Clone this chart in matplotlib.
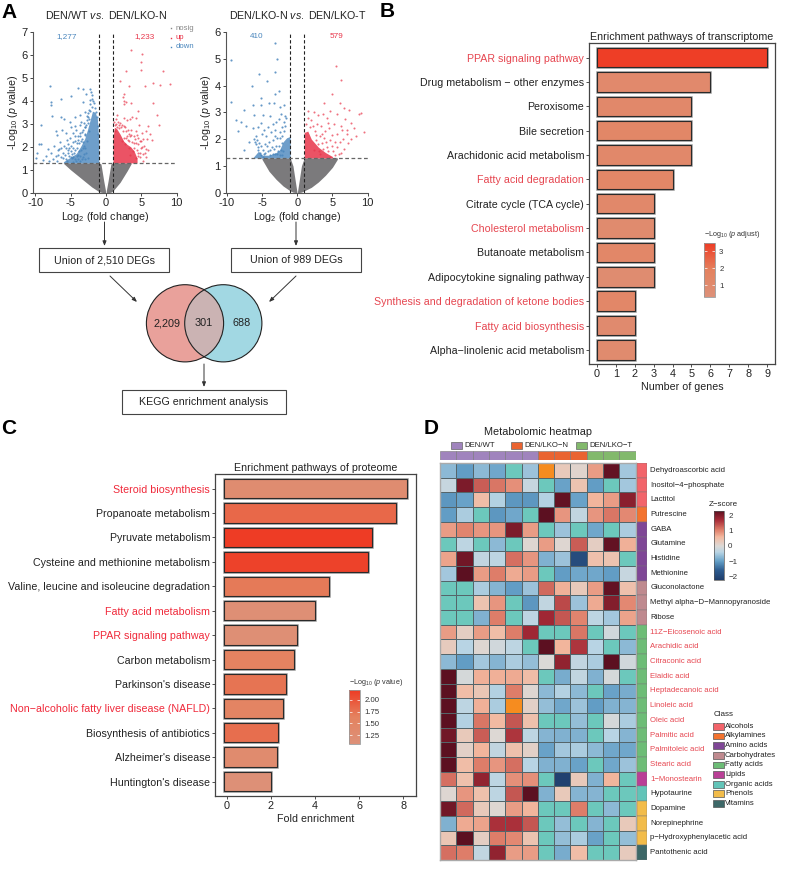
import numpy as np
import matplotlib
matplotlib.use('Agg')
import matplotlib.pyplot as plt
from matplotlib.cm import ScalarMappable
from matplotlib.colors import LinearSegmentedColormap, Normalize
from matplotlib.patches import Circle, Rectangle

plt.rcParams['font.family'] = ['Liberation Sans', 'DejaVu Sans']
plt.rcParams['mathtext.fontset'] = 'custom'
plt.rcParams['mathtext.rm'] = 'Liberation Sans'
plt.rcParams['mathtext.it'] = 'Liberation Sans:italic'
plt.rcParams['axes.unicode_minus'] = False

W, H = 787, 875
T = -9  # teal cells in the heatmap
O = 9   # orange cells in the heatmap

# volcano 1
v1_blue = [(-7.9,4.63),(-7.7,3.97),(-7.7,3.83),(-7.55,3.32),(-6.4,3.29),(-9.1,2.95),(-9.4,2.13),(-9.1,2.11),
    (-9.8,1.72),(-9.9,1.5),(-8.9,1.43),(-6.3,4.09),(-5,4.22),(-4,4.56),(-3.3,4.51),(-2.8,4.3),(-2.3,4.5),(-2.1,4.4),
    (-2,4.25),(-1.9,4.1),(-2.3,4.05),(-1.7,3.9),(-2.2,3.85),(-3.2,3.95),(-5.9,3.2),(-5.1,3.1),(-4.4,3.3),(-3.7,3.4),
    (-3,3.5),(-2.7,3.35),(-7.1,2.7),(-6.9,2.5),(-6.2,2.75),(-5.6,2.6),(-4.9,2.85),(-4.2,2.75),(-3.6,2.95),(-3.1,3.05),
    (-2.9,2.85),(-8.2,1.9),(-7.8,1.75),(-7.4,2.05),(-7.1,1.6),(-6.8,1.85),(-6.5,2.2),(-6.4,1.55),(-6.1,1.75),(-5.9,2.05),
    (-5.7,1.45),(-5.5,2.3),(-5.4,1.85),(-5.2,1.6),(-5.1,2.4),(-4.9,2.05),(-4.8,1.5),(-4.6,2.6),(-4.5,1.75),(-4.4,2.25),
    (-4.2,1.4),(-4.1,1.95),(-4,2.45),(-3.9,1.65),(-3.8,2.15),(-3.7,1.4),(-3.6,2.6),(-3.5,1.85),(-3.4,2.35),(-3.3,1.55),
    (-3.2,2.75),(-3.1,2.05),(-3,1.45),(-2.9,2.5),(-2.8,1.75),(-2.7,2.25),(-2.6,3.05),(-2.5,1.5),(-2.45,2.7),(-2.35,3.2),
    (-8.5,1.6),(-8,1.4),(-7.5,1.45),(-6.9,1.4),(-6.6,1.9),(-5.3,2.1),(-4.7,1.35),(-4.3,2.9),(-3.5,3.1),(-2.2,3.55),
    (-6.7,1.65),(-6.3,1.95),(-6,1.5),(-5.8,1.65),(-5.6,1.95),(-5.5,1.4),(-5.3,1.75),(-5.2,1.95),(-5,1.55),(-5,1.8),
    (-4.8,1.7),(-4.7,1.95),(-4.6,2.2),(-4.6,1.55),(-4.4,1.45),(-4.3,1.85),(-4.3,2.45),(-4.1,2.15),(-4.1,1.6),(-3.9,2.3),
    (-3.9,1.45),(-3.8,1.8),(-3.7,2.45),(-3.6,1.6),(-3.5,2.25),(-3.4,1.45),(-3.4,2.65),(-3.3,1.95),(-3.2,2.2),(-3.1,1.7),
    (-3,2.55),(-3,2.85),(-2.9,1.95),(-2.8,2.95),(-2.7,3.15),(-2.6,3.45),(-2.5,3.3),(-2.4,3.6),(-1.5,3.7),(-1.8,4),
    (-2,3.75),(-1.4,3.5),(-1.2,3.3),(-1.15,2.9),(-1.1,2.55)]
v1_red = [(3.5,6.2),(5.1,6.03),(5,5.7),(5,5.35),(2.8,5.3),(8,5.3),(9.1,4.73),(6.6,4.8),(7.7,4.7),(5.5,4.65),(2,4.85),
    (3.3,4.65),(2.6,4.3),(2.4,4.15),(2.5,4),(2.8,3.95),(2.5,3.85),(3.5,3.9),(6.6,3.9),(7.2,3.4),(7.5,2.95),(4.5,3.55),
    (3.7,3.3),(2.6,3.25),(3,3.15),(3.4,3.2),(4.2,3.25),(1.5,3.4),(1.4,3.2),(1.7,3.1),(2,3.05),(2.3,2.95),(4.7,2.95),
    (5.1,2.6),(5.6,2.7),(4.2,2.7),(3.6,2.75),(2.9,2.7),(2.4,2.7),(1.3,2.95),(1.6,2.85),(1.9,2.8),(3.2,2.55),(3.9,2.45),
    (4.6,2.4),(5,2.25),(5.4,2.05),(4.3,2.15),(3.7,2.2),(3.1,2.3),(2.6,2.4),(6,1.85),(5.5,1.75),(4.9,1.95),(4.4,1.85),
    (4.8,1.55),(4.3,1.5),(5.8,2.35),(5.2,1.4),(6.5,2.3),(3.8,1.8),(3.4,1.65),(3.2,1.95),(2.7,2.1),(2.3,2.25),(5.9,2.9),
    (1.2,3.1),(1.25,2.7),(1.45,3),(1.8,2.95),(2.15,2.85),(2.5,2.9),(2.75,2.85),(3.1,2.75),(3.4,2.45),(3.3,2.25),(3.6,2.5),
    (3.9,2.15),(4.1,2.35),(4.4,2.5),(4.6,2.1),(4.75,2.25),(4.85,1.75),(5.1,2),(5.2,1.7),(5.3,2.35),(5.6,1.9),(5.7,1.55),
    (4.6,1.75),(4.5,1.6),(4,1.95),(6.2,2.55),(3,2.45),(2.85,2.4)]
v1_core_blue_x = [-1, -1.2, -1.5, -1.9, -2.2, -2.6, -3, -3.6, -4.2, -5, -6]
v1_core_blue_y = [2.2, 3.2, 3.5, 3.55, 3.2, 2.75, 2.35, 2.0, 1.7, 1.55, 1.35]
v1_core_red_x = [1, 1.2, 1.5, 2, 2.5, 3, 3.5, 4, 4.4]
v1_core_red_y = [2.4, 2.85, 2.8, 2.55, 2.25, 2.1, 2.0, 1.8, 1.5]
v1_grey_lx = [-6, -5, -4, -3, -2, -1, -0.7, -0.3, -0.05]
v1_grey_ll = [1.28, 1, 0.75, 0.5, 0.25, 0.05, 0.02, 0, 0]
v1_grey_lu = [1.3, 1.3, 1.3, 1.3, 1.3, 1.3, 1.25, 0.5, 0.08]
v1_grey_rx = [0.05, 0.3, 0.7, 1, 2, 3, 3.6]
v1_grey_rl = [0, 0, 0.02, 0.08, 0.45, 0.95, 1.28]
v1_grey_ru = [0.08, 0.5, 1.25, 1.3, 1.3, 1.3, 1.3]

# volcano 2
v2_blue = [(-9.4,4.96),(-9.4,3.4),(-5.4,4.44),(-4.25,4.18),(-6.4,3.97),(-3.2,5.6),(-2.9,5),(-3.2,4.52),(-5.2,3.53),
    (-3.1,3.7),(-2.6,3.8),(-4,3.35),(-6.3,3.28),(-5.2,3.28),(-7.6,3.07),(-8,2.65),(-8.65,2.7),(-7.2,2.5),(-8.4,2.3),
    (-6.1,2.9),(-3.3,3.35),(-1.9,3.28),(-2.4,3.2),(-1.8,2.85),(-1.6,2.8),(-1.9,2.65),(-1.7,2.5),(-2.2,2.45),(-2.6,2.75),
    (-3.5,2.55),(-3,2.65),(-4.2,2.45),(-5.2,2.6),(-4.8,2.9),(-5.9,2.1),(-6.1,2),(-6,1.9),(-5.8,1.8),(-5.6,1.7),(-5.5,1.6),
    (-5.3,1.5),(-5.1,1.4),(-6.9,1.9),(-6.3,2.4),(-4.8,1.35),(-4.6,1.8),(-4.4,2.1),(-4.2,1.55),(-4,1.9),(-3.9,1.4),(-3.7,2.25),
    (-3.6,1.7),(-3.4,1.95),(-3.2,1.45),(-3.1,2.35),(-3,1.75),(-2.8,2.05),(-2.7,1.55),(-2.5,2.25),(-2.4,1.4),(-2.2,1.85),
    (-2.1,2.1),(-2,1.55),(-1.9,2.3),(-5,2.2),(-4.7,2.35),(-5.5,2.45),(-3.8,2.85),(-7.5,1.6),(-2.3,2.95),
    (-5.7,1.95),(-5.4,1.85),(-5.2,1.75),(-4.9,1.6),(-4.7,1.45),(-4.5,1.5),(-4.3,1.75),(-3.8,1.6),(-3.5,1.45),(-3.3,1.65),
    (-2.9,1.45),(-2.6,1.75),(-2.3,1.6),(-2.1,1.4),(-3.2,2.1),(-2.4,2.05)]
v2_red = [(5.45,4.72),(6.15,4.2),(5,3.7),(3.8,3.35),(6.6,3.15),(9,2.97),(8.8,2.92),(9.45,2.28),(8.3,2.1),(7.6,2.6),(7.1,2.35),
    (6.8,2.75),(6.2,2.5),(5.7,2.95),(5.2,2.55),(4.7,3.05),(4.2,2.8),(3.6,2.95),(3,2.9),(2.4,3),(1.6,3.05),(1.5,2.8),
    (2,2.7),(2.8,2.55),(3.4,2.5),(3.9,2.3),(4.5,2.4),(5,2.15),(5.6,2.2),(6,1.9),(6.5,2),(7.2,1.85),(7.7,2),(6.7,1.65),
    (6.2,1.5),(5.7,1.7),(5.4,1.4),(4.9,1.75),(4.4,1.55),(4.1,1.9),(3.7,1.65),(3.2,2.1),(2.9,1.8),(2.5,2.3),(3.3,1.45),
    (4.7,1.35),(2.2,2.5),(1.8,2.45),(1.3,2.55),(8,2.4),(7.4,3.1),(6,3.35),(4.4,2.6),(3.5,2.2),(6.4,2.35),(7,2.2),
    (3.1,1.55),(3.5,1.85),(3.8,2.05),(4.2,1.7),(4.6,1.95),(5.1,1.55),(5.3,1.9),(5.9,1.45),(2.7,1.95),(2.4,1.6),(2.6,2.15)]
v2_core_blue_x = [-6.3, -5.5, -5, -4, -3, -2.5, -2, -1.5, -1]
v2_core_blue_y = [1.3, 1.55, 1.4, 1.4, 1.5, 1.6, 1.9, 2.05, 2.1]
v2_core_red_x = [1, 1.5, 2, 3, 4, 5]
v2_core_red_y = [2.25, 2.3, 2.0, 1.7, 1.5, 1.35]
v2_grey_lx = [-5, -4, -3, -2, -1, -0.6, -0.05]
v2_grey_ll = [1.25, 0.8, 0.5, 0.25, 0.07, 0.02, 0]
v2_grey_lu = [1.3, 1.3, 1.3, 1.3, 1.3, 1.0, 0.05]
v2_grey_rx = [0.05, 0.6, 1, 2, 3, 4, 5, 5.7]
v2_grey_rl = [0, 0.02, 0.07, 0.2, 0.4, 0.65, 0.95, 1.25]
v2_grey_ru = [0.05, 1.0, 1.3, 1.3, 1.3, 1.3, 1.3, 1.3]

# panel B
b_terms = ['PPAR signaling pathway', 'Drug metabolism \u2212 other enzymes', 'Peroxisome', 'Bile secretion',
           'Arachidonic acid metabolism', 'Fatty acid degradation', 'Citrate cycle (TCA cycle)', 'Cholesterol metabolism',
           'Butanoate metabolism', 'Adipocytokine signaling pathway', 'Synthesis and degradation of ketone bodies',
           'Fatty acid biosynthesis', 'Alpha\u2212linolenic acid metabolism']
b_genes = [9, 6, 5, 5, 5, 4, 3, 3, 3, 3, 2, 2, 2]
b_padj = [3.4, 1.1, 1.25, 1.4, 1.25, 1.4, 1.25, 0.95, 1.35, 0.85, 1.35, 1.0, 0.95]
b_red = [0, 5, 7, 10, 11]

# panel C
c_terms = ['Steroid biosynthesis', 'Propanoate metabolism', 'Pyruvate metabolism', 'Cysteine and methionine metabolism',
           'Valine, leucine and isoleucine degradation', 'Fatty acid metabolism', 'PPAR signaling pathway', 'Carbon metabolism',
           "Parkinson's disease", 'Non\u2212alcoholic fatty liver disease (NAFLD)', 'Biosynthesis of antibiotics',
           "Alzheimer's disease", "Huntington's disease"]
c_fold = [8.15, 7.65, 6.6, 6.42, 4.65, 4.0, 3.17, 3.05, 2.7, 2.56, 2.34, 2.26, 2.0]
c_pval = [1.25, 1.85, 2.2, 2.15, 1.7, 1.15, 1.15, 1.6, 1.75, 1.55, 1.8, 1.3, 1.1]
c_red = [0, 5, 6, 9]

# panel D
metabolites = ['Dehydroascorbic acid', 'Inositol\u22124\u2212phosphate', 'Lactitol', 'Putrescine', 'GABA', 'Glutamine',
               'Histidine', 'Methionine', 'Gluconolactone', 'Methyl alpha\u2212D\u2212Mannopyranoside', 'Ribose',
               '11Z\u2212Eicosenoic acid', 'Arachidic acid', 'Citraconic acid', 'Elaidic acid', 'Heptadecanoic acid',
               'Linoleic acid', 'Oleic acid', 'Palmitic acid', 'Palmitoleic acid', 'Stearic acid', '1\u2212Monostearin',
               'Hypotaurine', 'Dopamine', 'Norepinephrine', 'p\u2212Hydroxyphenylacetic acid', 'Pantothenic acid']
zscores = [
    [-0.7, -1.0, -0.7, -0.9, T, -0.6, O, 0.3, 0.1, 0.8, 2.2, -0.55],
    [-0.25, 2.0, 1.3, 1.1, 0.9, -0.25, T, -0.95, 0.4, -1.0, T, -0.55],
    [-1.05, -0.95, 0.5, -0.45, -1.05, -1.05, -0.45, 2.2, -0.95, 0.6, 0.8, 1.9],
    [-1.0, -0.5, T, -1.05, -0.9, T, 2.25, 0.85, -0.3, 0.85, 1.1, 0.95],
    [0.8, 1.0, 0.85, 0.85, 2.0, 0.8, T, -0.6, T, -0.9, T, -0.5],
    [T, -0.35, T, -0.7, T, 0.05, 0.8, 0.05, 1.3, 0.2, 2.2, 0.65],
    [0.75, 2.1, -0.3, -0.35, 1.15, 0.85, -0.8, -0.6, -1.9, 0.45, 0.4, T],
    [-0.55, 2.25, 0.8, 1.05, 0.7, 0.8, T, -1.0, -0.9, -0.9, -1.0, -0.25],
    [T, T, -0.5, -0.75, -1.0, -0.6, 1.2, 0.65, 0.3, 0.8, 2.2, 0.45],
    [T, T, 0.4, 0.85, T, -1.05, -0.3, 1.45, -0.6, 0.7, 1.95, 0.95],
    [T, T, -0.8, 1.05, T, -0.35, 1.75, 1.35, 1.0, -0.35, -0.55, 0.75],
    [0.8, 0.2, 0.8, 0.5, 1.05, 1.75, T, T, 1.1, T, -0.15, T],
    [0.25, -0.4, 0.05, -0.15, -0.35, T, 2.25, 0.6, 1.6, -0.4, T, -0.7],
    [-0.7, -1.0, -0.55, -0.75, -0.5, -0.65, -0.02, 1.85, -0.3, -0.5, 2.25, -0.15],
    [2.25, -0.1, 0.65, 0.65, 0.7, 0.5, T, -0.85, -0.3, -0.8, -0.1, T],
    [2.25, 0.5, 0.35, -0.45, 1.05, 0.05, -0.7, -0.45, -0.7, T, -0.95, -0.85],
    [2.25, -0.35, 0.65, -0.5, O, 0.15, -0.65, -0.9, -0.6, -1.0, -0.8, -0.75],
    [2.25, -0.45, 1.1, 0.55, 1.35, 0.45, T, T, -0.65, T, -0.1, -0.5],
    [2.1, 0.3, 1.3, 0.02, 1.6, -0.35, -0.75, -0.8, -0.8, T, -0.4, -0.75],
    [2.25, 0.15, 0.6, -0.3, 0.45, 0.15, -0.95, -0.55, -0.5, -0.7, -0.9, -0.9],
    [2.25, 0.5, 1.05, 0.85, 1.15, -0.4, -0.8, -0.8, -0.95, T, -0.9, -0.6],
    [1.15, 0.45, 1.85, -0.35, 0.9, 0.9, T, -2.1, 0.3, -0.8, 0.6, T],
    [0.05, 0.85, 0.45, -0.35, 1.35, 2.25, -0.8, 0.3, -0.75, -0.75, T, T],
    [2.1, 1.2, 0.3, 0.05, 0.8, 0.6, T, T, 1.05, T, -0.7, T],
    [-0.8, 0.7, 0.75, 1.65, 1.65, 1.35, T, -0.65, T, -0.75, T, 0.3],
    [0.35, 2.25, 0.2, 1.05, 0.95, 0.4, T, -0.65, -0.5, -0.95, T, -0.65],
    [1.15, 1.05, -0.3, 1.85, 0.8, 0.8, T, -0.85, 0.5, T, T, 0.25],
]
group_names = ['DEN/WT', 'DEN/LKO\u2212N', 'DEN/LKO\u2212T']
group_sizes = [6, 3, 3]
group_colors = ['#a084bd', '#ea6431', '#82b96c']
class_names = ['Alcohols', 'Alkylamines', 'Amino acids', 'Carbohydrates', 'Fatty acids', 'Lipids', 'Organic acids', 'Phenols', 'Vitamins']
class_counts = [3, 1, 4, 3, 10, 1, 1, 3, 1]
class_colors = ['#f2646a', '#f3732f', '#7f4796', '#bf8a8f', '#6dbd77', '#b93f96', '#62c4b8', '#f2bc4a', '#3d6868']
red_metabolites = range(11, 22)

GREY = '#7b7a7c'
BLUE = '#4a86bd'
RED = '#e8354a'
red_text = '#e64650'


def px_axes(x0, y0, x1, y1):
    return fig.add_axes([x0 / W, 1 - y1 / H, (x1 - x0) / W, (y1 - y0) / H])


fig = plt.figure(figsize=(W / 100, H / 100), dpi=100)

# overlay in pixel units for the boxes, venn and captions
page = fig.add_axes([0, 0, 1, 1], zorder=5)
page.set_xlim(0, W)
page.set_ylim(H, 0)
page.axis('off')
page.patch.set_alpha(0)


def volcano(box, ymax, xlim, blue, red, cb, cr, grey_l, grey_r, title):
    ax = px_axes(*box)
    ax.patch.set_alpha(0)
    ax.fill_between(grey_l[0], grey_l[1], grey_l[2], color=GREY, lw=0)
    ax.fill_between(grey_r[0], grey_r[1], grey_r[2], color=GREY, lw=0)
    ax.fill_between(cb[0], 1.3, cb[1], color=BLUE, lw=0, alpha=0.8)
    ax.fill_between(cr[0], 1.3, cr[1], color=RED, lw=0, alpha=0.85)
    ax.scatter(*zip(*blue), s=2.4, color=BLUE, lw=0, alpha=0.85)
    ax.scatter(*zip(*red), s=2.2, color=RED, lw=0, alpha=0.7)
    ax.axvline(-1, color='#222222', lw=0.8, ls=(0, (3, 2)))
    ax.axvline(1, color='#222222', lw=0.8, ls=(0, (3, 2)))
    ax.axhline(1.3, color='#666666', lw=0.9, ls=(0, (3, 2)))
    ax.set_xlim(*xlim)
    ax.set_ylim(0, ymax)
    ax.set_xticks([-10, -5, 0, 5, 10])
    ax.set_xticklabels(['-10', '-5', '0', '5', '10'])
    ax.set_yticks(range(ymax + 1))
    ax.spines[['top', 'right']].set_visible(False)
    ax.spines[['left', 'bottom']].set_color('#555555')
    ax.spines[['left', 'bottom']].set_linewidth(0.8)
    ax.tick_params(labelsize=8, length=2.5, width=0.7, pad=1.5, color='#444444', labelcolor='#222222')
    ax.set_xlabel('Log$_{2}$ (fold change)', fontsize=7.7, labelpad=1, color='#222222')
    ax.set_ylabel('-Log$_{10}$ ($\\mathit{p}$ value)', fontsize=7.7, labelpad=1, color='#222222')
    page.text(title[0], 14.7, title[1], ha='center', va='center', fontsize=7.7, color='#222222')
    return ax


a1 = volcano((33, 32, 176.7, 192.7), 7, (-10.3, 10), v1_blue, v1_red, (v1_core_blue_x, v1_core_blue_y),
             (v1_core_red_x, v1_core_red_y), (v1_grey_lx, v1_grey_ll, v1_grey_lu), (v1_grey_rx, v1_grey_rl, v1_grey_ru),
             (106, 'DEN/WT $\\mathit{vs.}$ DEN/LKO-N'))
a2 = volcano((226, 32, 367.7, 192.7), 6, (-10.1, 10), v2_blue, v2_red, (v2_core_blue_x, v2_core_blue_y),
             (v2_core_red_x, v2_core_red_y), (v2_grey_lx, v2_grey_ll, v2_grey_lu), (v2_grey_rx, v2_grey_rl, v2_grey_ru),
             (297.5, 'DEN/LKO-N $\\mathit{vs.}$ DEN/LKO-T'))

for x, s, c in [(66.7, '1,277', BLUE), (145, '1,233', RED), (257, '410', BLUE), (336, '579', RED)]:
    page.text(x, 36.5, s, ha='center', va='center', fontsize=5.9, color=c)
for y, s, c in [(28, 'nosig', '#888888'), (37.5, 'up', RED), (47, 'down', BLUE)]:
    page.plot([171], [y], 's', ms=1, color=c, mew=0)
    page.text(175.5, y, s, ha='left', va='center', fontsize=5.6, color=c)

# boxes and arrows
for x0, x1, y0, y1, s in [(39.3, 169.3, 248.3, 272.3, 'Union of 2,510 DEGs'), (231, 360.7, 248.3, 272.3, 'Union of 989 DEGs'),
                          (121.7, 286.3, 390, 414, 'KEGG enrichment analysis')]:
    page.add_patch(Rectangle((x0, y0), x1 - x0, y1 - y0, fc='white', ec='#444444', lw=0.8))
    page.text((x0 + x1) / 2, (y0 + y1) / 2, s, ha='center', va='center', fontsize=7.7, color='#222222')
for p0, p1 in [((104.5, 222), (104.5, 246)), ((296, 222), (296, 246)), ((110, 276), (137, 302)),
               ((296, 276), (269, 302)), ((204, 364), (204, 387))]:
    page.annotate('', xy=p1, xytext=p0, arrowprops=dict(arrowstyle='-|>,head_width=0.11,head_length=0.28', color='#333333', lw=0.7, shrinkA=0, shrinkB=0))

# venn
left = Circle((185, 323.3), 38.6, fc='#e9a19b', ec='none')
right = Circle((223.3, 323.3), 38.6, fc='#a2d8e3', ec='none')
both = Circle((223.3, 323.3), 38.6, fc='#cbb3b3', ec='none')
page.add_patch(left)
page.add_patch(right)
page.add_patch(both)
both.set_clip_path(left)
page.add_patch(Circle((185, 323.3), 38.6, fc='none', ec='#222222', lw=0.8))
page.add_patch(Circle((223.3, 323.3), 38.6, fc='none', ec='#222222', lw=0.8))
for x, s in [(167, '2,209'), (204, '301'), (241.5, '688')]:
    page.text(x, 323, s, ha='center', va='center', fontsize=7.8, color='#222222')

bar_cmap = LinearSegmentedColormap.from_list('bars', ['#dd9179', '#e4825f', '#ee3b24'])


def enrich(box, terms, values, scores, red_idx, red_col, xlim, xticks, norm, start, title, xlabel):
    ax = px_axes(*box)
    pos = np.arange(len(terms))
    ax.barh(pos, np.array(values) - start, left=start, height=0.8, color='none', ec='#999999', lw=1.8)
    ax.barh(pos, np.array(values) - start, left=start, height=0.8, color=bar_cmap(norm(scores)), ec='#2a2a2a', lw=0.8)
    ax.set_ylim(len(terms) - 0.42, -0.6)
    ax.set_xlim(*xlim)
    ax.set_xticks(xticks)
    ax.set_yticks(pos)
    ax.set_yticklabels(terms)
    for i, lab in enumerate(ax.get_yticklabels()):
        lab.set_color(red_col if i in red_idx else '#222222')
    ax.tick_params(axis='y', labelsize=7.65, length=2, width=0.6, pad=1.5, color='#333333')
    ax.tick_params(axis='x', labelsize=7.8, length=2, width=0.6, pad=1.5, color='#333333', labelcolor='#222222')
    for sp in ax.spines.values():
        sp.set_color('#444444')
        sp.set_linewidth(0.9)
    ax.set_title(title, fontsize=7.7, pad=2, color='#222222')
    ax.set_xlabel(xlabel, fontsize=7.7, labelpad=2.5, color='#222222')
    return ax


def bar_legend(box, norm, ticks, fmt, title, title_pos):
    cax = px_axes(*box)
    cb = fig.colorbar(ScalarMappable(norm=norm, cmap=bar_cmap), cax=cax)
    cb.set_ticks(ticks)
    cb.set_ticklabels([fmt % t for t in ticks])
    cb.outline.set_edgecolor('#999999')
    cb.outline.set_linewidth(0.6)
    cax.tick_params(direction='in', length=2, width=0.5, color='white', left=True, right=True,
                    labelsize=5.6, pad=3, labelcolor='#333333')
    page.text(title_pos[0], title_pos[1], title, fontsize=5.2, ha='left', va='center', color='#333333')


b_norm = Normalize(0.3, 3.47)
enrich((589, 43, 775, 364), b_terms, b_genes, b_padj, b_red, red_text, (-0.42, 9.42), range(10), b_norm, 0,
       'Enrichment pathways of transcriptome', 'Number of genes')
bar_legend((704, 243, 715, 297), b_norm, [1, 2, 3], '%d', '\u2212Log$_{10}$ ($\\mathit{p}$ adjust)', (704, 235))

c_norm = Normalize(1.06, 2.21)
enrich((215, 474, 415.7, 795.7), c_terms, c_fold, c_pval, c_red, '#f0293a', (-0.53, 8.56), [0, 2, 4, 6, 8], c_norm, -0.12,
       'Enrichment pathways of proteome', 'Fold enrichment')
bar_legend((349, 690, 360, 744), c_norm, [1.25, 1.5, 1.75, 2.0], '%.2f', '\u2212Log$_{10}$ ($\\mathit{p}$ value)', (349, 683))

# heatmap
heat_cmap = LinearSegmentedColormap.from_list('heat', [(0, '#1f3d6b'), (0.14, '#2d5c90'), (0.27, '#639fc6'), (0.4, '#b8d4e4'),
                                                       (0.49, '#dcd9d6'), (0.62, '#f3b9a0'), (0.72, '#e0806b'),
                                                       (0.87, '#a62a36'), (1, '#5a0f20')])
heat_cmap.set_under('#6cc8bc')
heat_cmap.set_over('#f68c1f')
heat_norm = Normalize(-2.2, 2.28)
hm = px_axes(440, 463, 635.7, 860)
hm.pcolormesh(np.array(zscores), cmap=heat_cmap, norm=heat_norm, edgecolors='#55656a', linewidth=0.5)
hm.set_ylim(len(metabolites), 0)
hm.set_xticks([])
hm.set_yticks([])
for sp in hm.spines.values():
    sp.set_color('#aaaaaa')
    sp.set_linewidth(1)

top = px_axes(440, 451, 635.7, 460)
pos = 0
for size, col in zip(group_sizes, group_colors):
    top.barh(0, [1] * size, left=np.arange(pos, pos + size), height=1, color=col, ec='#777777', lw=0.4)
    pos += size
top.set_xlim(0, sum(group_sizes))
top.set_ylim(-0.5, 0.5)
top.axis('off')

side = px_axes(637.3, 463, 647, 860)
pos = 0
for n, col in zip(class_counts, class_colors):
    side.bar(0, [1] * n, bottom=np.arange(pos, pos + n), width=1, color=col, ec='#777777', lw=0.3, align='center')
    pos += n
side.set_ylim(len(metabolites), 0)
side.set_xlim(-0.5, 0.5)
side.axis('off')

row_h = (860 - 463) / len(metabolites)
for i, name in enumerate(metabolites):
    page.text(650.5, 463 + row_h * (i + 0.5), name, ha='left', va='center', fontsize=5.6,
              color=red_text if i in red_metabolites else '#222222')

page.text(537.5, 432, 'Metabolomic heatmap', ha='center', va='center', fontsize=7.8, color='#222222')
for x, name, col in zip([450.7, 510.7, 576], group_names, group_colors):
    page.add_patch(Rectangle((x, 442), 11, 6.7, fc=col, ec='#666666', lw=0.5))
    page.text(x + 13.5, 445.3, name, ha='left', va='center', fontsize=5.6, color='#222222')

zax = px_axes(714.3, 510.7, 724, 580)
zb = fig.colorbar(ScalarMappable(norm=heat_norm, cmap=heat_cmap), cax=zax)
zb.set_ticks([-2, -1, 0, 1, 2])
zb.set_ticklabels(['\u22122', '\u22121', '0', '1', '2'])
zb.outline.set_edgecolor('#555555')
zb.outline.set_linewidth(0.5)
zax.tick_params(length=0, labelsize=5.8, pad=3, labelcolor='#333333')
page.text(723, 504, 'Z\u2212score', ha='center', va='center', fontsize=5.8, color='#222222')

page.text(714, 715, 'Class', ha='left', va='center', fontsize=5.8, color='#222222')
for i, (name, col) in enumerate(zip(class_names, class_colors)):
    y = 726.3 + 9.65 * i
    page.add_patch(Rectangle((713.3, y - 3.4), 10.7, 6.8, fc=col, ec='#555555', lw=0.5))
    page.text(725, y, name, ha='left', va='center', fontsize=5.6, color='#222222')

for x, y, s in [(1, 12, 'A'), (380, 11.5, 'B'), (1, 428.5, 'C'), (424, 428, 'D')]:
    page.text(x, y, s, ha='left', va='center', fontsize=15, fontweight='bold', color='black')

fig.savefig('out.png', dpi=100)
